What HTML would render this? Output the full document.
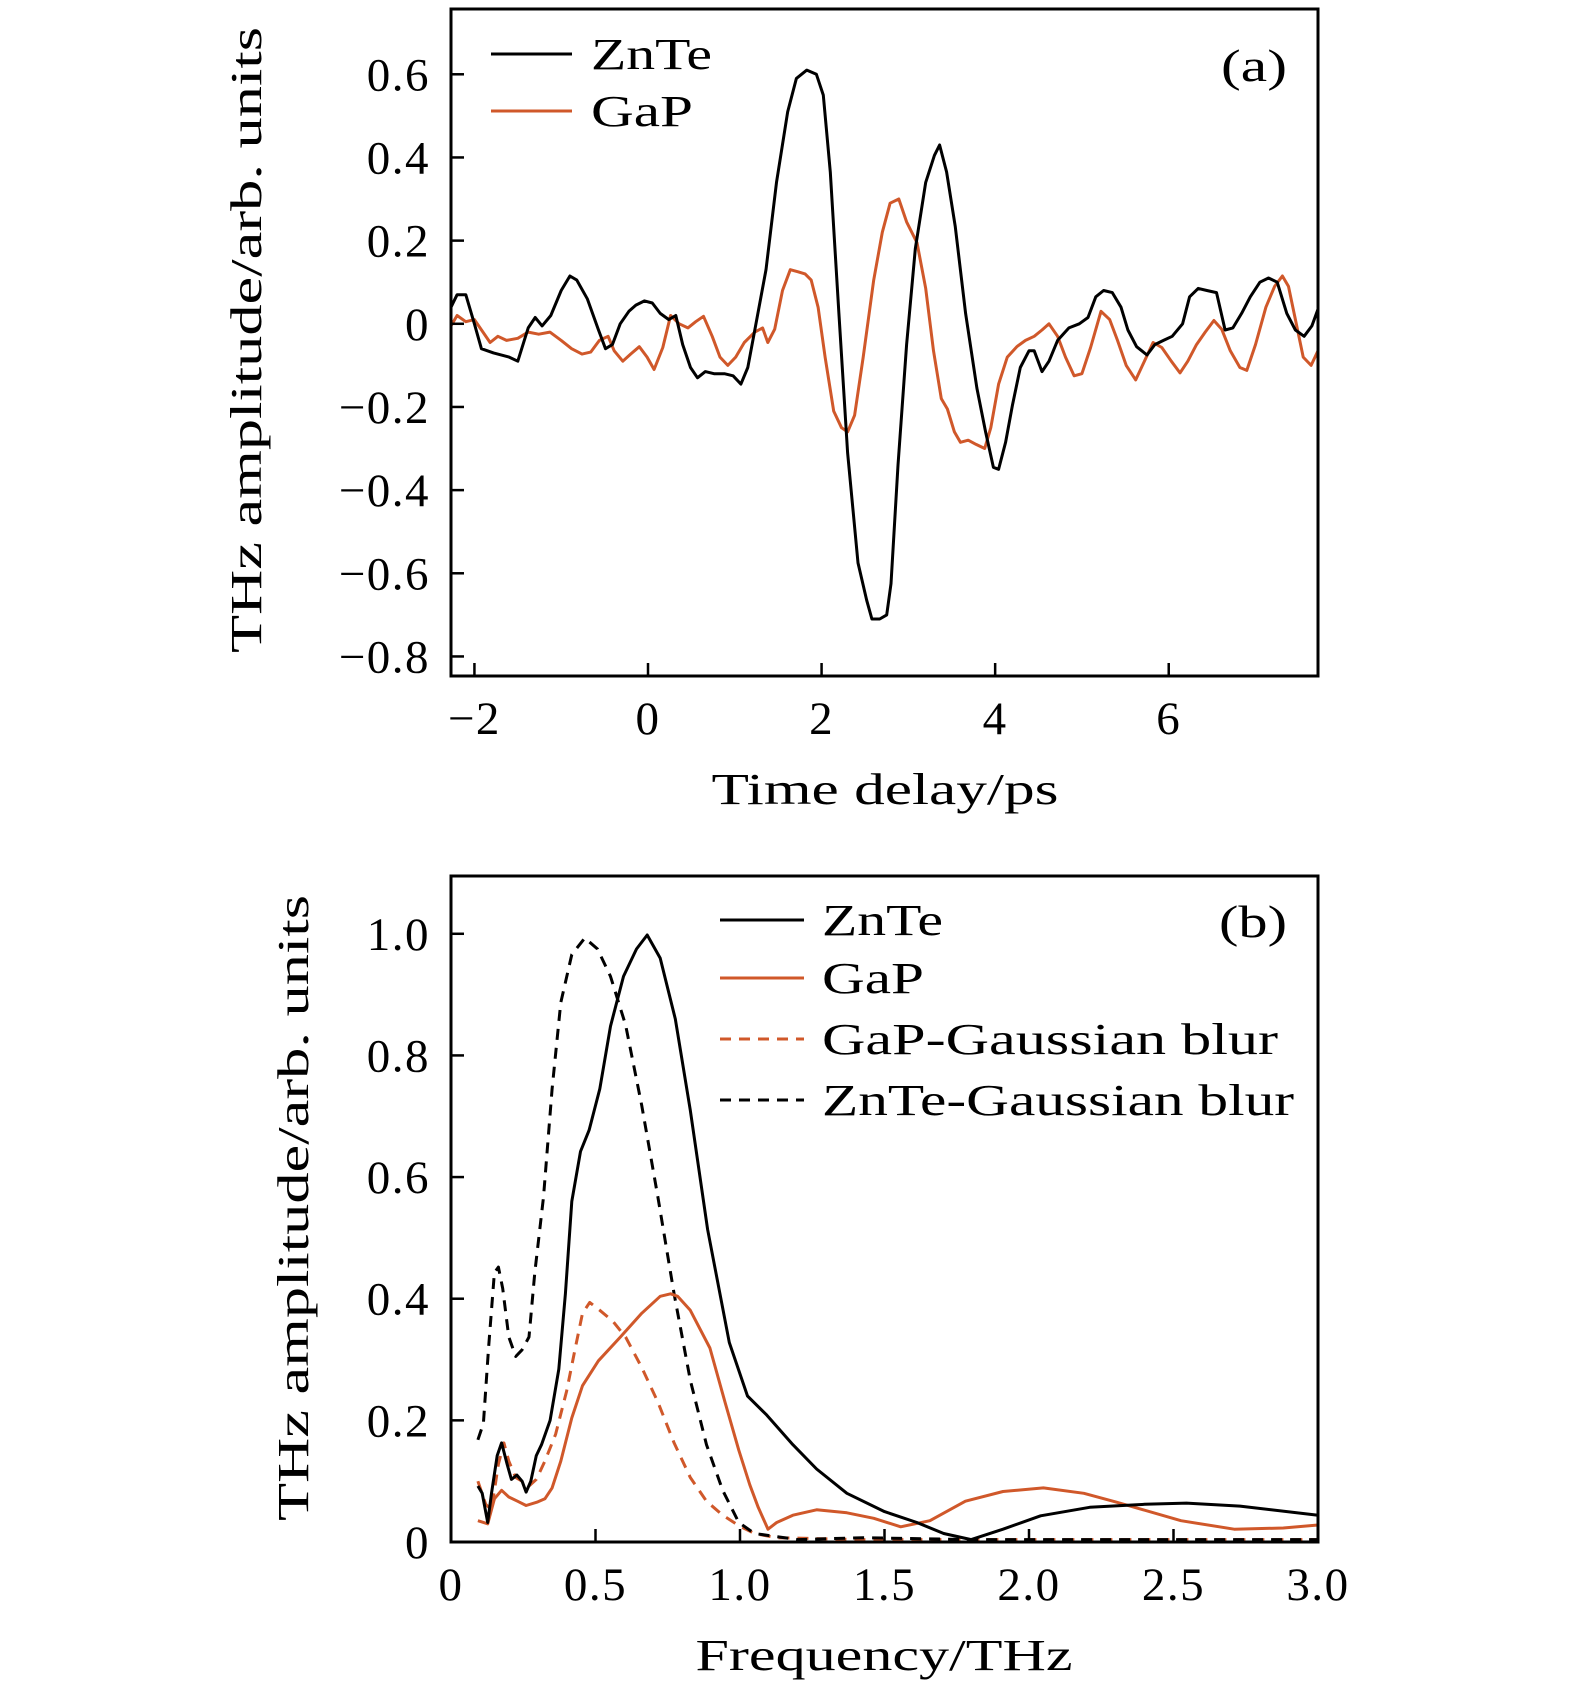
<!DOCTYPE html>
<html><head><meta charset="utf-8"><style>
html,body{margin:0;padding:0;background:#fff}
svg{display:block}
text{font-family:"Liberation Serif",serif;fill:#000}
</style></head><body>
<svg id="chart" width="1575" height="1693" viewBox="0 0 1575 1693" xmlns="http://www.w3.org/2000/svg">
<g id="pa"></g>
<g id="pb"></g>
</svg>
<script>
// Panel (a) data: time delay (ps) and amplitude
const tZn = [-2.27,-2.2,-2.1,-2.0,-1.92,-1.78,-1.6,-1.5,-1.38,-1.3,-1.22,-1.12,-1.0,-0.9,-0.82,-0.7,-0.57,-0.49,-0.41,-0.32,-0.22,-0.14,-0.04,0.05,0.14,0.24,0.32,0.4,0.49,0.57,0.66,0.76,0.88,0.98,1.07,1.15,1.23,1.36,1.48,1.61,1.71,1.83,1.94,2.02,2.1,2.2,2.3,2.42,2.52,2.58,2.67,2.75,2.8,2.88,2.98,3.08,3.2,3.3,3.36,3.44,3.54,3.66,3.79,3.89,3.98,4.04,4.12,4.2,4.29,4.39,4.45,4.54,4.62,4.72,4.85,4.97,5.07,5.16,5.25,5.35,5.45,5.53,5.63,5.75,5.84,5.94,6.04,6.16,6.24,6.34,6.44,6.55,6.65,6.74,6.84,6.94,7.05,7.15,7.25,7.36,7.46,7.56,7.65,7.72];
const vZn = [0.04,0.07,0.07,0,-0.06,-0.07,-0.08,-0.09,-0.01,0.015,-0.005,0.02,0.08,0.115,0.105,0.06,-0.015,-0.06,-0.05,0,0.03,0.045,0.055,0.05,0.025,0.01,0.02,-0.05,-0.105,-0.13,-0.115,-0.12,-0.12,-0.125,-0.145,-0.105,-0.015,0.13,0.34,0.51,0.59,0.61,0.6,0.55,0.365,0.025,-0.31,-0.575,-0.665,-0.71,-0.71,-0.7,-0.625,-0.34,-0.05,0.18,0.34,0.405,0.43,0.365,0.235,0.025,-0.155,-0.26,-0.345,-0.35,-0.285,-0.195,-0.105,-0.065,-0.065,-0.115,-0.09,-0.04,-0.01,0,0.015,0.065,0.08,0.075,0.04,-0.015,-0.055,-0.075,-0.05,-0.04,-0.03,0,0.065,0.085,0.08,0.075,-0.015,-0.01,0.025,0.065,0.1,0.11,0.1,0.025,-0.015,-0.03,-0.005,0.035];
const tGa = [-2.27,-2.2,-2.1,-2.0,-1.82,-1.73,-1.63,-1.5,-1.38,-1.26,-1.13,-1.0,-0.88,-0.76,-0.66,-0.56,-0.46,-0.39,-0.29,-0.2,-0.1,-0.01,0.07,0.17,0.26,0.36,0.46,0.55,0.64,0.74,0.83,0.92,1.01,1.11,1.23,1.32,1.38,1.46,1.55,1.64,1.73,1.81,1.88,1.96,2.04,2.14,2.23,2.3,2.38,2.48,2.6,2.7,2.79,2.89,2.98,3.1,3.2,3.29,3.38,3.45,3.53,3.6,3.69,3.78,3.88,3.95,4.04,4.14,4.25,4.35,4.45,4.54,4.62,4.72,4.81,4.91,5.0,5.1,5.22,5.32,5.41,5.51,5.62,5.72,5.82,5.92,6.03,6.13,6.22,6.32,6.42,6.52,6.61,6.71,6.82,6.9,7.0,7.12,7.22,7.31,7.38,7.47,7.55,7.64,7.72];
const vGa = [-0.005,0.02,0.005,0.01,-0.045,-0.03,-0.04,-0.035,-0.02,-0.025,-0.02,-0.04,-0.06,-0.073,-0.068,-0.04,-0.03,-0.065,-0.09,-0.073,-0.055,-0.08,-0.11,-0.057,0.02,0,-0.01,0.005,0.018,-0.03,-0.08,-0.1,-0.08,-0.045,-0.02,-0.01,-0.045,-0.013,0.08,0.13,0.125,0.12,0.105,0.04,-0.08,-0.21,-0.25,-0.26,-0.22,-0.08,0.105,0.22,0.29,0.3,0.245,0.195,0.085,-0.065,-0.18,-0.205,-0.26,-0.285,-0.28,-0.29,-0.3,-0.25,-0.145,-0.08,-0.055,-0.04,-0.03,-0.015,0,-0.03,-0.08,-0.125,-0.12,-0.057,0.03,0.01,-0.04,-0.1,-0.135,-0.09,-0.045,-0.057,-0.09,-0.118,-0.09,-0.05,-0.02,0.008,-0.013,-0.065,-0.105,-0.112,-0.05,0.04,0.09,0.115,0.09,0,-0.08,-0.1,-0.065];
const aXTicks = [-2,0,2,4,6];
const aXLabels = ["\u22122","0","2","4","6"];
const aYTicks = [0.6,0.4,0.2,0,-0.2,-0.4,-0.6,-0.8];
const aYLabels = ["0.6","0.4","0.2","0","\u22120.2","\u22120.4","\u22120.6","\u22120.8"];
// Panel (b) data: frequency (THz) and amplitude
const fZn = [0.093,0.108,0.127,0.14,0.16,0.175,0.194,0.209,0.228,0.246,0.26,0.276,0.295,0.313,0.343,0.373,0.396,0.418,0.448,0.478,0.515,0.552,0.597,0.642,0.679,0.724,0.776,0.828,0.888,0.963,1.026,1.09,1.183,1.265,1.37,1.5,1.612,1.705,1.8,1.91,2.04,2.21,2.4,2.545,2.73,3.0];
const aZn = [0.092,0.08,0.032,0.08,0.142,0.163,0.128,0.103,0.11,0.1,0.082,0.1,0.142,0.16,0.2,0.284,0.408,0.56,0.642,0.677,0.745,0.848,0.93,0.975,0.998,0.96,0.86,0.71,0.514,0.328,0.24,0.21,0.16,0.12,0.08,0.05,0.032,0.014,0.004,0.021,0.043,0.057,0.062,0.064,0.059,0.044];
const fGa = [0.093,0.127,0.15,0.175,0.2,0.23,0.26,0.3,0.325,0.35,0.38,0.418,0.455,0.51,0.586,0.66,0.724,0.76,0.784,0.828,0.896,0.948,0.996,1.034,1.063,1.097,1.127,1.183,1.265,1.37,1.463,1.556,1.657,1.78,1.91,2.05,2.19,2.3,2.395,2.526,2.71,2.88,3.0];
const aGa = [0.035,0.03,0.071,0.085,0.074,0.067,0.06,0.066,0.071,0.089,0.133,0.204,0.257,0.298,0.337,0.376,0.404,0.408,0.404,0.381,0.319,0.23,0.151,0.094,0.057,0.021,0.032,0.044,0.053,0.048,0.039,0.025,0.035,0.067,0.083,0.089,0.08,0.066,0.053,0.035,0.021,0.023,0.028];
const fGaBlur = [0.093,0.12,0.14,0.164,0.183,0.2,0.224,0.246,0.27,0.295,0.325,0.362,0.4,0.43,0.455,0.48,0.515,0.56,0.604,0.66,0.716,0.772,0.828,0.884,0.94,0.996,1.05,1.127,1.425,3.0];
const aGaBlur = [0.1,0.062,0.053,0.128,0.163,0.133,0.106,0.1,0.092,0.103,0.133,0.177,0.248,0.319,0.376,0.394,0.381,0.363,0.337,0.287,0.23,0.163,0.106,0.067,0.044,0.027,0.014,0.007,0.004,0.004];
const fZnBlur = [0.093,0.112,0.13,0.15,0.164,0.179,0.2,0.224,0.246,0.27,0.29,0.32,0.35,0.38,0.418,0.463,0.507,0.552,0.604,0.66,0.716,0.772,0.828,0.884,0.94,0.996,1.05,1.2,1.425,1.8,3.0];
const aZnBlur = [0.168,0.195,0.32,0.443,0.452,0.417,0.337,0.305,0.316,0.337,0.443,0.567,0.745,0.887,0.966,0.993,0.975,0.93,0.85,0.718,0.567,0.408,0.266,0.16,0.085,0.032,0.014,0.004,0.007,0.004,0.004];
const bXTicks = [0,0.5,1.0,1.5,2.0,2.5,3.0];
const bXLabels = ["0","0.5","1.0","1.5","2.0","2.5","3.0"];
const bYTicks = [0,0.2,0.4,0.6,0.8,1.0];
const bYLabels = ["0","0.2","0.4","0.6","0.8","1.0"];

const NS = "http://www.w3.org/2000/svg";
const ORANGE = "#d0582a";
function mk(parent, tag, attrs) {
  const el = document.createElementNS(NS, tag);
  for (const k in attrs) el.setAttribute(k, attrs[k]);
  parent.appendChild(el);
  return el;
}
function lin(d0, d1, r0, r1) { return v => r0 + (v - d0) / (d1 - d0) * (r1 - r0); }

function panel(g, o) {
  const X = lin(o.xd[0], o.xd[1], o.L, o.R);
  const Y = lin(o.yd[0], o.yd[1], o.B, o.T);
  o.series.forEach(s => {
    const d = s.xs.map((x, i) => (i ? "L" : "M") + X(x).toFixed(1) + " " + Y(s.ys[i]).toFixed(1)).join(" ");
    const p = mk(g, "path", {d: d, fill: "none", stroke: s.color, "stroke-width": 3, "stroke-linejoin": "round"});
    if (s.dash) p.setAttribute("stroke-dasharray", "11 8");
    
    
  });
  const fr = mk(g, "rect", {x: o.L, y: o.T, width: o.R - o.L, height: o.B - o.T, fill: "none", stroke: "#000", "stroke-width": 3});
  
  
  o.xt.forEach((v, i) => {
    const t = mk(g, "line", {x1: X(v), x2: X(v), y1: o.B, y2: o.B - 13, stroke: "#000", "stroke-width": 2.5});
    
    
    const lb = mk(g, "text", {x: X(v), y: o.B + 58, "text-anchor": "middle", "font-size": 47, "letter-spacing": 1.5});
    lb.textContent = o.xl[i];
    
    
  });
  o.yt.forEach((v, i) => {
    const t = mk(g, "line", {x1: o.L, x2: o.L + 13, y1: Y(v), y2: Y(v), stroke: "#000", "stroke-width": 2.5});
    
    
    const lb = mk(g, "text", {x: 430, y: Y(v) + 16, "text-anchor": "end", "font-size": 47, "letter-spacing": 1.5});
    lb.textContent = o.yl[i];
    
    
  });
}

const pa = document.getElementById("pa");
panel(pa, {L: 451, R: 1318, T: 9, B: 676, xd: [-2.27, 7.72], yd: [-0.847, 0.757],
  xt: aXTicks, xl: aXLabels, yt: aYTicks, yl: aYLabels,
  series: [{xs: tGa, ys: vGa, color: ORANGE, name: "gap-line"}, {xs: tZn, ys: vZn, color: "#000", name: "znte-line"}]});
const pb = document.getElementById("pb");
panel(pb, {L: 451, R: 1318, T: 876, B: 1542, xd: [0, 3], yd: [0, 1.095],
  xt: bXTicks, xl: bXLabels, yt: bYTicks, yl: bYLabels,
  series: [{xs: fGaBlur, ys: aGaBlur, color: ORANGE, dash: true, name: "gap-gaussian-blur-line"},
           {xs: fZnBlur, ys: aZnBlur, color: "#000", dash: true, name: "znte-gaussian-blur-line"},
           {xs: fGa, ys: aGa, color: ORANGE, name: "gap-line"},
           {xs: fZn, ys: aZn, color: "#000", name: "znte-line"}]});
</script>
<script>
(function(){
  const NS = "http://www.w3.org/2000/svg";
  function T(parent, txt, attrs) {
    const el = document.createElementNS(NS, "text");
    for (const k in attrs) el.setAttribute(k, attrs[k]);
    el.textContent = txt;
    parent.appendChild(el);
    return el;
  }
  function L(parent, x1, x2, y, color, dash) {
    const el = document.createElementNS(NS, "line");
    el.setAttribute("x1", x1); el.setAttribute("x2", x2); el.setAttribute("y1", y); el.setAttribute("y2", y);
    el.setAttribute("stroke", color); el.setAttribute("stroke-width", 3);
    if (dash) el.setAttribute("stroke-dasharray", "11 8");
    parent.appendChild(el);
    return el;
  }
  const pa = document.getElementById("pa"), pb = document.getElementById("pb");
  let e;
  e = T(pa, "THz amplitude/arb. units", {x: 0, y: 0, "font-size": 44, "text-anchor": "middle", textLength: 626, lengthAdjust: "spacingAndGlyphs", transform: "translate(261 340) rotate(-90)"});
  
  
  e = T(pa, "Time delay/ps", {x: 885, y: 804, "font-size": 44, "text-anchor": "middle", textLength: 347, lengthAdjust: "spacingAndGlyphs"});
  
  
  e = T(pa, "(a)", {x: 1287, y: 81, "font-size": 46, "text-anchor": "end", textLength: 66, lengthAdjust: "spacingAndGlyphs"});
  
  
  e = L(pa, 491, 572, 54, "#000");
  
  
  e = T(pa, "ZnTe", {x: 591, y: 69, "font-size": 44, textLength: 121, lengthAdjust: "spacingAndGlyphs"});
  
  
  e = L(pa, 491, 572, 111, "#d0582a");
  
  
  e = T(pa, "GaP", {x: 591, y: 126, "font-size": 44, textLength: 102, lengthAdjust: "spacingAndGlyphs"});
  
  

  e = T(pb, "THz amplitude/arb. units", {x: 0, y: 0, "font-size": 44, "text-anchor": "middle", textLength: 626, lengthAdjust: "spacingAndGlyphs", transform: "translate(308 1208) rotate(-90)"});
  
  
  e = T(pb, "Frequency/THz", {x: 884, y: 1670, "font-size": 44, "text-anchor": "middle", textLength: 377, lengthAdjust: "spacingAndGlyphs"});
  
  
  e = T(pb, "(b)", {x: 1287, y: 937, "font-size": 46, "text-anchor": "end", textLength: 68, lengthAdjust: "spacingAndGlyphs"});
  
  
  const leg = [["ZnTe", "#000", false, 920, 121, "znte"], ["GaP", "#d0582a", false, 978, 102, "gap"], ["GaP-Gaussian blur", "#d0582a", true, 1039, 456, "gap-gaussian-blur"], ["ZnTe-Gaussian blur", "#000", true, 1100, 472, "znte-gaussian-blur"]];
  leg.forEach(r => {
    const s = L(pb, 720, 804, r[3], r[1], r[2]);
    
    
    const t = T(pb, r[0], {x: 822, y: r[3] + 15, "font-size": 44, textLength: r[4], lengthAdjust: "spacingAndGlyphs"});
    
    
  });
})();
</script>
</body></html>
